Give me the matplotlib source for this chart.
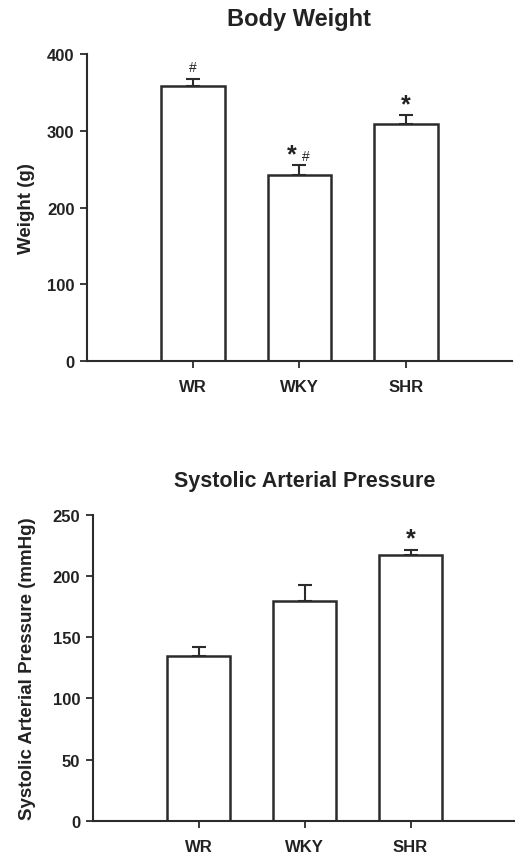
import matplotlib
matplotlib.use("Agg")
from matplotlib import pyplot as plt

plt.rcParams['font.family'] = ['Liberation Sans', 'DejaVu Sans']

groups = ['WR', 'WKY', 'SHR']
weight = [358, 243, 309]
weight_err = [9, 12, 12]
pressure = [135, 180, 217]
pressure_err = [7, 13, 4]

edge = '#2b2b2b'
txt = '#222222'
fig = plt.figure(figsize=(5.15, 8.54), dpi=100)


def bar_panel(ax, values, errs, title, ylabel, ymax, ystep, title_size, label_x):
    x = list(range(1, len(values) + 1))
    ax.bar(x, values, width=0.6, color='white', edgecolor=edge, linewidth=1.8, zorder=2)
    ax.errorbar(x, values, yerr=[[0] * len(errs), errs], fmt='none', ecolor=edge,
                elinewidth=1.5, capsize=5, capthick=1.5, zorder=1)
    ax.set_xlim(0, 4)
    ax.set_ylim(0, ymax)
    ax.set_yticks(range(0, ymax + 1, ystep))
    ax.set_xticks(x)
    ax.set_xticklabels(groups)
    for s in ['top', 'right']:
        ax.spines[s].set_visible(False)
    for s in ['left', 'bottom']:
        ax.spines[s].set_linewidth(1.5)
        ax.spines[s].set_color(edge)
    ax.tick_params(direction='out', length=5, width=1.3, color=edge, labelsize=12)
    ax.tick_params(axis='y', pad=4)
    ax.tick_params(axis='x', pad=8)
    for lab in ax.get_xticklabels() + ax.get_yticklabels():
        lab.set_fontweight('bold')
        lab.set_color(txt)
    ax.set_title(title, fontsize=title_size, fontweight='bold', color=txt, pad=21)
    ax.set_ylabel(ylabel, fontsize=13.5, fontweight='bold', color=txt)
    ax.yaxis.set_label_coords(label_x, 0.5)


ax1 = fig.add_axes([0.169, 0.576, 0.825, 0.3595])
bar_panel(ax1, weight, weight_err, 'Body Weight', 'Weight (g)', 400, 100, 17, -0.122)
ax1.text(1, 374, '#', ha='center', va='bottom', fontsize=10, color=txt)
ax1.text(1.93, 254, '*', ha='center', va='bottom', fontsize=18, fontweight='bold', color=txt)
ax1.text(2.06, 258, '#', ha='center', va='bottom', fontsize=10, color=txt)
ax1.text(3, 319, '*', ha='center', va='bottom', fontsize=18, fontweight='bold', color=txt)

ax2 = fig.add_axes([0.18, 0.0378, 0.823, 0.358])
bar_panel(ax2, pressure, pressure_err, 'Systolic Arterial Pressure',
          'Systolic Arterial Pressure (mmHg)', 250, 50, 15.5, -0.134)
ax2.text(3, 221, '*', ha='center', va='bottom', fontsize=18, fontweight='bold', color=txt)

fig.savefig('out.png', dpi=100)
